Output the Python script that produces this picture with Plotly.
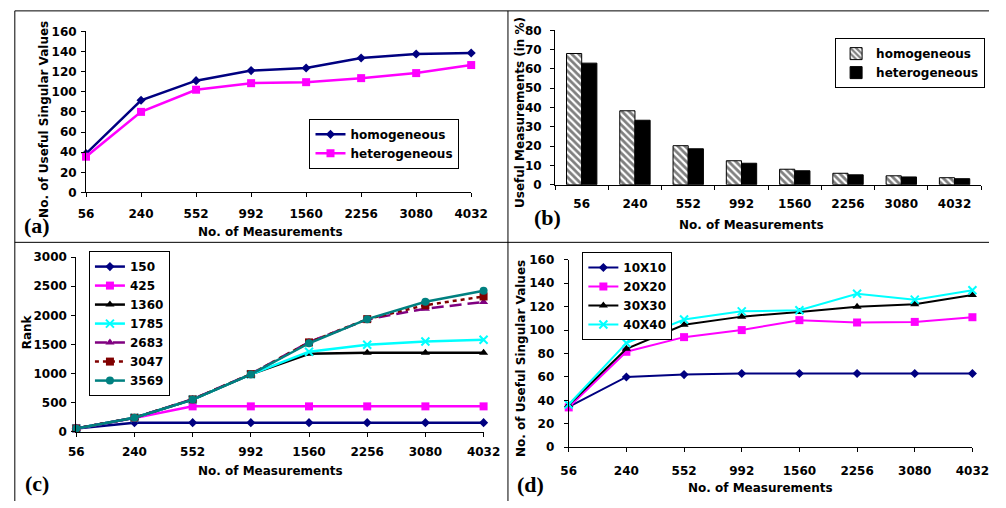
import plotly.graph_objects as go

W, H = 1006, 508

# ---------------- data ----------------
measurements = ["56", "240", "552", "992", "1560", "2256", "3080", "4032"]

# (a) useful singular values
a_homogeneous = [38.5, 91.5, 111, 121, 123.5, 133.5, 137.5, 138.5]
a_heterogeneous = [35.5, 80, 102, 108.5, 109.5, 113.5, 118.5, 126.5]

# (b) useful measurements (in %)
b_homogeneous = [68.0, 38.3, 20.2, 12.4, 8.0, 5.9, 4.6, 3.6]
b_heterogeneous = [63.0, 33.4, 18.6, 11.1, 7.2, 5.1, 4.0, 3.1]

# (c) rank
c_names = ["150", "425", "1360", "1785", "2683", "3047", "3569"]
c_150 = [56, 155, 155, 155, 155, 155, 155, 155]
c_425 = [56, 235, 435, 435, 435, 435, 435, 435]
c_1360 = [56, 240, 552, 985, 1340, 1355, 1355, 1355]
c_1785 = [56, 240, 552, 985, 1375, 1495, 1550, 1580]
c_2683 = [56, 240, 560, 992, 1540, 1930, 2115, 2230]
c_3047 = [56, 240, 555, 990, 1535, 1935, 2175, 2325]
c_3569 = [56, 240, 552, 985, 1520, 1935, 2235, 2425]

# (d) useful singular values by grid size
d_names = ["10X10", "20X20", "30X30", "40X40"]
d_10 = [34.5, 60, 62, 63, 63, 63, 63, 63]
d_20 = [34, 81.5, 94, 100, 108.5, 106.5, 107, 111]
d_30 = [36, 84, 104.5, 111.5, 115.5, 120, 122, 130]
d_40 = [36.5, 89, 109, 116, 117, 131, 126, 134]

# ---------------- helpers ----------------
def px(x):
    return x / W

def py(y):
    return (H - y) / H

FONT = "DejaVu Sans"
SERIF = "Liberation Serif"
NAVY, MAG, BLK, CYAN = "#000080", "#FF00FF", "#000000", "#00FFFF"
PURP, DRED, TEAL = "#800080", "#800000", "#008080"

fig = go.Figure()

def line_trace(y, name, color, symbol, size, xa, ya, legend, dash="solid", width=2.5, xmark=False):
    marker = dict(symbol=symbol, size=size, color=color)
    if xmark:
        marker["line"] = dict(width=2, color=color)
    return go.Scatter(x=measurements, y=y, name=name, mode="lines+markers",
                      line=dict(color=color, width=width, dash=dash),
                      marker=marker, xaxis=xa, yaxis=ya, legend=legend,
                      cliponaxis=False)

# (a)
fig.add_trace(line_trace(a_homogeneous, "homogeneous", NAVY, "diamond", 7, "x", "y", "legend"))
fig.add_trace(line_trace(a_heterogeneous, "heterogeneous", MAG, "square", 8, "x", "y", "legend"))

# (b)
fig.add_trace(go.Bar(x=measurements, y=b_homogeneous, name="homogeneous",
                     marker=dict(color="white", line=dict(color="black", width=1),
                                 pattern=dict(shape="\\", fgcolor="black", bgcolor="white",
                                              size=5, solidity=0.55)),
                     xaxis="x2", yaxis="y2", legend="legend2"))
fig.add_trace(go.Bar(x=measurements, y=b_heterogeneous, name="heterogeneous",
                     marker=dict(color="black", line=dict(color="black", width=1)),
                     xaxis="x2", yaxis="y2", legend="legend2"))

# (c)
c_series = [c_150, c_425, c_1360, c_1785, c_2683, c_3047, c_3569]
c_styles = [
    (NAVY, "diamond", 7, "solid", False),
    (MAG, "square", 8, "solid", False),
    (BLK, "triangle-up", 8, "solid", False),
    (CYAN, "x-thin", 8, "solid", True),
    (PURP, "triangle-up", 8, "12px,6px", False),
    (DRED, "square", 8, "4px,4px", False),
    (TEAL, "circle", 8, "solid", False),
]
for name, ys, (col, sym, sz, dash, xm) in zip(c_names, c_series, c_styles):
    fig.add_trace(line_trace(ys, name, col, sym, sz, "x3", "y3", "legend3", dash=dash,
                             width=2.5, xmark=xm))

# (d)
d_series = [d_10, d_20, d_30, d_40]
d_styles = [(NAVY, "diamond", 7, False), (MAG, "square", 8, False),
            (BLK, "triangle-up", 8, False), (CYAN, "x-thin", 8, True)]
for name, ys, (col, sym, sz, xm) in zip(d_names, d_series, d_styles):
    fig.add_trace(line_trace(ys, name, col, sym, sz, "x4", "y4", "legend4", width=2, xmark=xm))

tickfont = dict(family=FONT, size=12, color="black", weight="bold")

def xaxis(x0, x1, bars=False, standoff=8):
    d = dict(domain=[px(x0), px(x1)], type="category", showline=True, linecolor="black",
             linewidth=1, showgrid=False, zeroline=False, ticks="outside", ticklen=4,
             tickcolor="black", tickfont=tickfont, fixedrange=True,
             ticklabelstandoff=standoff)
    if bars:
        d.update(range=[-0.5, 7.5], tickson="boundaries")
    else:
        d.update(range=[0, 7])
    return d

def yaxis(y0px, y1px, rng, dtick, anchor, standoff=2):
    return dict(domain=[py(y0px), py(y1px)], range=rng, dtick=dtick, showline=True,
                linecolor="black", linewidth=1, showgrid=False, zeroline=False,
                ticks="outside", ticklen=4, tickcolor="black", tickfont=tickfont,
                anchor=anchor, fixedrange=True, ticklabelstandoff=standoff)

def legend(x0, y0, size, anchor="left"):
    return dict(x=px(x0), y=py(y0), xanchor=anchor, yanchor="top", bgcolor="white",
                bordercolor="black", borderwidth=1, itemwidth=30,
                font=dict(family=FONT, size=size, color="black", weight="bold"),
                tracegroupgap=0)

fig.update_layout(
    width=W, height=H, margin=dict(l=0, r=0, t=0, b=0),
    paper_bgcolor="white", plot_bgcolor="white", showlegend=True,
    barmode="group", bargap=0.43, bargroupgap=0,
    xaxis=xaxis(80, 475, standoff=6) | dict(anchor="y"),
    yaxis=yaxis(190.7, 25, [0, 160], 20, "x"),
    xaxis2=xaxis(561, 998, bars=True, standoff=8) | dict(anchor="y2"),
    yaxis2=yaxis(182.7, 24, [0, 80], 10, "x2", standoff=6),
    xaxis3=xaxis(70, 487.7, standoff=5) | dict(anchor="y3"),
    yaxis3=yaxis(436.7, 257.3, [0, 3000], 500, "x3"),
    xaxis4=xaxis(575, 989, standoff=8) | dict(anchor="y4"),
    yaxis4=yaxis(452.7, 260, [0, 160], 20, "x4", standoff=7),
    legend=legend(463, 115, 12, anchor="right"),
    legend2=legend(1002, 32, 12, anchor="right"),
    legend3=legend(83, 251, 12),
    legend4=legend(589, 252, 12),
)

# panel border lines
border = dict(color="black", width=1)
for (x0, y0, x1, y1) in [(7, 4, 1006, 4), (7, 4, 7, 508), (512.7, 4, 512.7, 508), (7, 242, 1006, 242)]:
    fig.add_shape(type="line", xref="paper", yref="paper", x0=px(x0), y0=py(y0),
                  x1=px(x1), y1=py(y1), line=border)

# axis titles and panel labels
def note(text, x, y, size=12, angle=0, family=FONT):
    fig.add_annotation(text=text, x=px(x), y=py(y), xref="paper", yref="paper",
                       xanchor="center", yanchor="middle", showarrow=False, textangle=angle,
                       font=dict(family=family, size=size, color="black", weight="bold"))

note("No. of Measurements", 269.5, 231)
note("No. of Useful Singular Values", 37, 116, angle=-90)
note("No. of Measurements", 762, 224)
note("Useful Measurements (in %)", 525, 108, angle=-90)
note("No. of Measurements", 269, 477)
note("Rank", 19, 334, angle=-90)
note("No. of Measurements", 772, 495)
note("No. of Useful Singular Values", 526, 361, angle=-90)

note("(a)", 29.5, 225, size=22, family=SERIF)
note("(b)", 553, 216, size=22, family=SERIF)
note("(c)", 29.5, 490, size=22, family=SERIF)
note("(d)", 536, 491, size=22, family=SERIF)

fig.write_html("out.html", config={"displayModeBar": False},
               post_script="document.body.style.margin='0';document.body.style.overflow='hidden';")
